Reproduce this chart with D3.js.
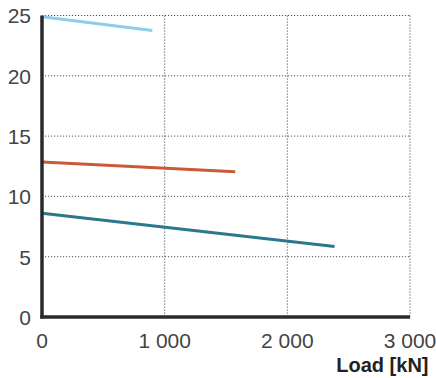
<!DOCTYPE html>
<html><head><meta charset="utf-8">
<script src="https://cdn.jsdelivr.net/npm/d3@7"></script>
<style>body{margin:0;background:#fff}svg{display:block}</style>
</head><body><svg id="c" width="436" height="378"></svg>
<script>
const xTicks = [0, 1000, 2000, 3000];
const yTicks = [0, 5, 10, 15, 20, 25];
const seriesNames = ["light", "mid", "dark"];
const seriesColors = ["#8ecde8", "#c95a38", "#2a788c"];
const lightLoad = [0, 900];
const lightValue = [24.9, 23.75];
const midLoad = [0, 1575];
const midValue = [12.85, 12.05];
const darkLoad = [0, 2385];
const darkValue = [8.6, 5.85];
const xTitle = "Load [kN]";

const loads = [lightLoad, midLoad, darkLoad];
const vals = [lightValue, midValue, darkValue];

const svg = d3.select("#c");
const x = d3.scaleLinear().domain([0, 3000]).range([42, 410]);
const y = d3.scaleLinear().domain([0, 25]).range([317, 15.5]);
const fmt = d => d3.format(",")(d).replace(",", " ");

// grid
const g = svg.append("g");
g.selectAll("line.vx").data(xTicks.filter(d => d > 0)).join("line")
  .attr("x1", d => x(d)).attr("x2", d => x(d)).attr("y1", y(25)).attr("y2", y(0))
  .attr("stroke", "#555").attr("stroke-width", 1).attr("stroke-dasharray", "1.2,1.8");
g.selectAll("line.hy").data(yTicks.filter(d => d > 0)).join("line")
  .attr("x1", x(0)).attr("x2", x(3000)).attr("y1", d => y(d)).attr("y2", d => y(d))
  .attr("stroke", "#555").attr("stroke-width", 1).attr("stroke-dasharray", "1.2,1.8");

// series
const line = d3.line().x(d => x(d[0])).y(d => y(d[1]));
seriesNames.forEach((n, i) => {
  const pts = loads[i].map((l, j) => [l, vals[i][j]]);
  svg.append("path").datum(pts).attr("d", line).attr("fill", "none")
    .attr("stroke", seriesColors[i]).attr("stroke-width", 3);
});

// axes lines
svg.append("line").attr("x1", x(0)).attr("x2", x(0)).attr("y1", y(25)).attr("y2", y(0) + 1.5)
  .attr("stroke", "#2b2a2a").attr("stroke-width", 3.5);
svg.append("line").attr("x1", x(0) - 1.75).attr("x2", x(3000)).attr("y1", y(0)).attr("y2", y(0))
  .attr("stroke", "#2b2a2a").attr("stroke-width", 3.5);

const font = "'Liberation Sans', Arial, Helvetica, sans-serif";
// y labels
svg.selectAll("text.yl").data(yTicks).join("text")
  .attr("x", 31).attr("y", d => y(d) + 7.8).attr("text-anchor", "end")
  .attr("font-family", font).attr("font-size", 21).attr("fill", "#444").text(d => d);
// x labels
svg.selectAll("text.xl").data(xTicks).join("text")
  .attr("x", d => x(d)).attr("y", 347.5).attr("text-anchor", "middle")
  .attr("font-family", font).attr("font-size", 21).attr("fill", "#444").text(d => fmt(d));
svg.append("text").attr("x", 428.5).attr("y", 372).attr("text-anchor", "end")
  .attr("font-family", font).attr("font-size", 20).attr("font-weight", "bold").attr("fill", "#222").text(xTitle);
</script></body></html>
